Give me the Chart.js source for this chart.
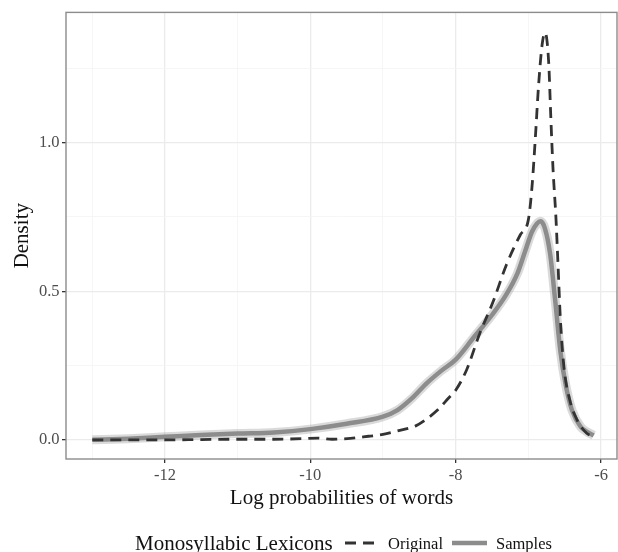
<!DOCTYPE html>
<html>
<head>
<meta charset="utf-8">
<script src="https://cdn.jsdelivr.net/npm/chart.js@4/dist/chart.umd.min.js"></script>
<style>
  body { margin: 0; background: #fff; }
  #wrap { width: 618px; height: 552px; }
</style>
</head>
<body>
<div id="wrap"><canvas id="micanvas" width="618" height="552"></canvas></div>
<script>
// ===============================
// DATOS
// ===============================

// Original (linea discontinua)
const origX = [-13, -12.5, -12, -11.5, -11, -10.5, -10.1, -9.9, -9.7, -9.45, -9.2, -9.0, -8.8, -8.55,
  -8.4, -8.25, -8.1, -8.0, -7.85, -7.67, -7.48, -7.3, -7.11, -7.0, -6.95, -6.9, -6.86, -6.81,
  -6.77, -6.72, -6.69, -6.66, -6.62, -6.59, -6.56, -6.51, -6.43, -6.33, -6.2, -6.1];
const origY = [0, 0, 0, 0.001, 0.002, 0.002, 0.004, 0.006, 0.002, 0.005, 0.012, 0.018, 0.03, 0.047,
  0.07, 0.1, 0.14, 0.167, 0.235, 0.357, 0.468, 0.59, 0.69, 0.74, 0.85, 1.03, 1.19, 1.33,
  1.37, 1.27, 1.08, 0.91, 0.746, 0.58, 0.41, 0.245, 0.134, 0.067, 0.023, 0.01];

// Samples (banda gris)
const sampX = [-13, -12.5, -12, -11.5, -11, -10.5, -10, -9.5, -9.0, -8.8, -8.6, -8.4, -8.2, -8.0,
  -7.75, -7.5, -7.3, -7.15, -7.05, -6.95, -6.88, -6.83, -6.77, -6.7, -6.63, -6.56, -6.49,
  -6.4, -6.28, -6.2, -6.1];
const sampY = [0, 0.004, 0.01, 0.016, 0.021, 0.025, 0.036, 0.054, 0.078, 0.1, 0.14, 0.19, 0.232, 0.27,
  0.345, 0.42, 0.49, 0.56, 0.63, 0.7, 0.728, 0.735, 0.71, 0.625, 0.468, 0.3, 0.19,
  0.1, 0.044, 0.028, 0.015];

// Ejes
const xTicks = [-13, -12, -11, -10, -9, -8, -7, -6];
const xMajor = [-12, -10, -8, -6];
const xTickLabels = ["-12", "-10", "-8", "-6"];
const yTicks = [0, 0.25, 0.5, 0.75, 1.0, 1.25];
const yMajor = [0, 0.5, 1.0];
const yTickLabels = ["0.0", "0.5", "1.0"];

const tituloX = "Log probabilities of words";
const tituloY = "Density";
const tituloLeyenda = "Monosyllabic Lexicons";
const nombresSeries = ["Original", "Samples"];

// ===============================
// HELPERS
// ===============================

const fuente = "'Liberation Serif', 'DejaVu Serif', serif";

function puntos(xs, ys) {
  return xs.map(function (x, i) { return { x: x, y: ys[i] }; });
}

function esMayor(lista, v) {
  return lista.some(function (m) { return Math.abs(m - v) < 1e-9; });
}

// ===============================
// TEXTOS, BORDE Y LEYENDA
// ===============================

const extras = {
  id: "extras",
  afterDraw(chart) {
    const c = chart.ctx;
    const a = chart.chartArea;
    c.save();

    // borde del panel
    c.strokeStyle = "#8c8c8c";
    c.lineWidth = 1.4;
    c.strokeRect(a.left, a.top, a.right - a.left, a.bottom - a.top);

    c.fillStyle = "#111";
    c.font = "21px " + fuente;
    c.textAlign = "center";
    c.textBaseline = "alphabetic";
    c.fillText(tituloX, (a.left + a.right) / 2, 504);

    c.save();
    c.translate(28, (a.top + a.bottom) / 2);
    c.rotate(-Math.PI / 2);
    c.fillText(tituloY, 0, 0);
    c.restore();

    // leyenda
    const yl = 543;
    c.textAlign = "left";
    c.fillText(tituloLeyenda, 135, 550);

    c.strokeStyle = "#333";
    c.lineWidth = 2.8;
    c.setLineDash([11, 7]);
    c.beginPath(); c.moveTo(345, yl); c.lineTo(381, yl); c.stroke();
    c.setLineDash([]);

    c.strokeStyle = "#8c8c8c";
    c.lineWidth = 4.5;
    c.beginPath(); c.moveTo(452, yl); c.lineTo(487, yl); c.stroke();

    c.font = "16.5px " + fuente;
    c.fillText(nombresSeries[0], 388, 549);
    c.fillText(nombresSeries[1], 496, 549);

    c.restore();
  }
};

// ===============================
// GRÁFICA
// ===============================

const ctx = document.getElementById("micanvas").getContext("2d");

const grafica = new Chart(ctx, {
  type: "line",
  data: {
    datasets: [
      {
        label: nombresSeries[0],
        data: puntos(origX, origY),
        borderColor: "#333333",
        borderWidth: 2.8,
        borderDash: [11, 7],
        pointRadius: 0,
        cubicInterpolationMode: "monotone",
        fill: false
      },
      {
        label: nombresSeries[1],
        data: puntos(sampX, sampY),
        borderColor: "#8c8c8c",
        borderWidth: 4.5,
        pointRadius: 0,
        cubicInterpolationMode: "monotone",
        fill: false
      },
      {
        label: "halo",
        data: puntos(sampX, sampY),
        borderColor: "rgba(150,150,150,0.35)",
        borderWidth: 9,
        pointRadius: 0,
        cubicInterpolationMode: "monotone",
        fill: false
      }
    ]
  },
  options: {
    responsive: false,
    animation: false,
    layout: { padding: { top: 8, right: 1, left: 0, bottom: 0 } },
    plugins: {
      legend: { display: false },
      tooltip: { enabled: false }
    },
    scales: {
      x: {
        type: "linear",
        min: -13.362,
        max: -5.78,
        afterBuildTicks: function (s) { s.ticks = xTicks.map(function (v) { return { value: v }; }); },
        afterFit: function (s) { s.height = 93; },
        border: { display: false },
        grid: {
          color: function (c) { return c.tick && esMayor(xMajor, c.tick.value) ? "#ebebeb" : "#f4f4f4"; },
          lineWidth: function (c) { return c.tick && esMayor(xMajor, c.tick.value) ? 1.3 : 0.8; },
          tickColor: function (c) { return c.tick && esMayor(xMajor, c.tick.value) ? "#333" : "rgba(0,0,0,0)"; },
          tickLength: 4,
          tickWidth: 1.3
        },
        ticks: {
          autoSkip: false,
          maxRotation: 0,
          padding: 3,
          color: "#4d4d4d",
          font: { family: fuente, size: 16.5 },
          callback: function (v) {
            const i = xMajor.findIndex(function (m) { return Math.abs(m - v) < 1e-9; });
            return i >= 0 ? xTickLabels[i] : "";
          }
        }
      },
      y: {
        min: -0.0645,
        max: 1.438,
        afterBuildTicks: function (s) { s.ticks = yTicks.map(function (v) { return { value: v }; }); },
        afterFit: function (s) { s.width = 66; },
        border: { display: false },
        grid: {
          color: function (c) { return c.tick && esMayor(yMajor, c.tick.value) ? "#ebebeb" : "#f4f4f4"; },
          lineWidth: function (c) { return c.tick && esMayor(yMajor, c.tick.value) ? 1.3 : 0.8; },
          tickColor: function (c) { return c.tick && esMayor(yMajor, c.tick.value) ? "#333" : "rgba(0,0,0,0)"; },
          tickLength: 4,
          tickWidth: 1.3
        },
        ticks: {
          autoSkip: false,
          padding: 2.5,
          color: "#4d4d4d",
          font: { family: fuente, size: 16.5 },
          callback: function (v) {
            const i = yMajor.findIndex(function (m) { return Math.abs(m - v) < 1e-9; });
            return i >= 0 ? yTickLabels[i] : "";
          }
        }
      }
    }
  },
  plugins: [extras]
});
</script>
</body>
</html>
